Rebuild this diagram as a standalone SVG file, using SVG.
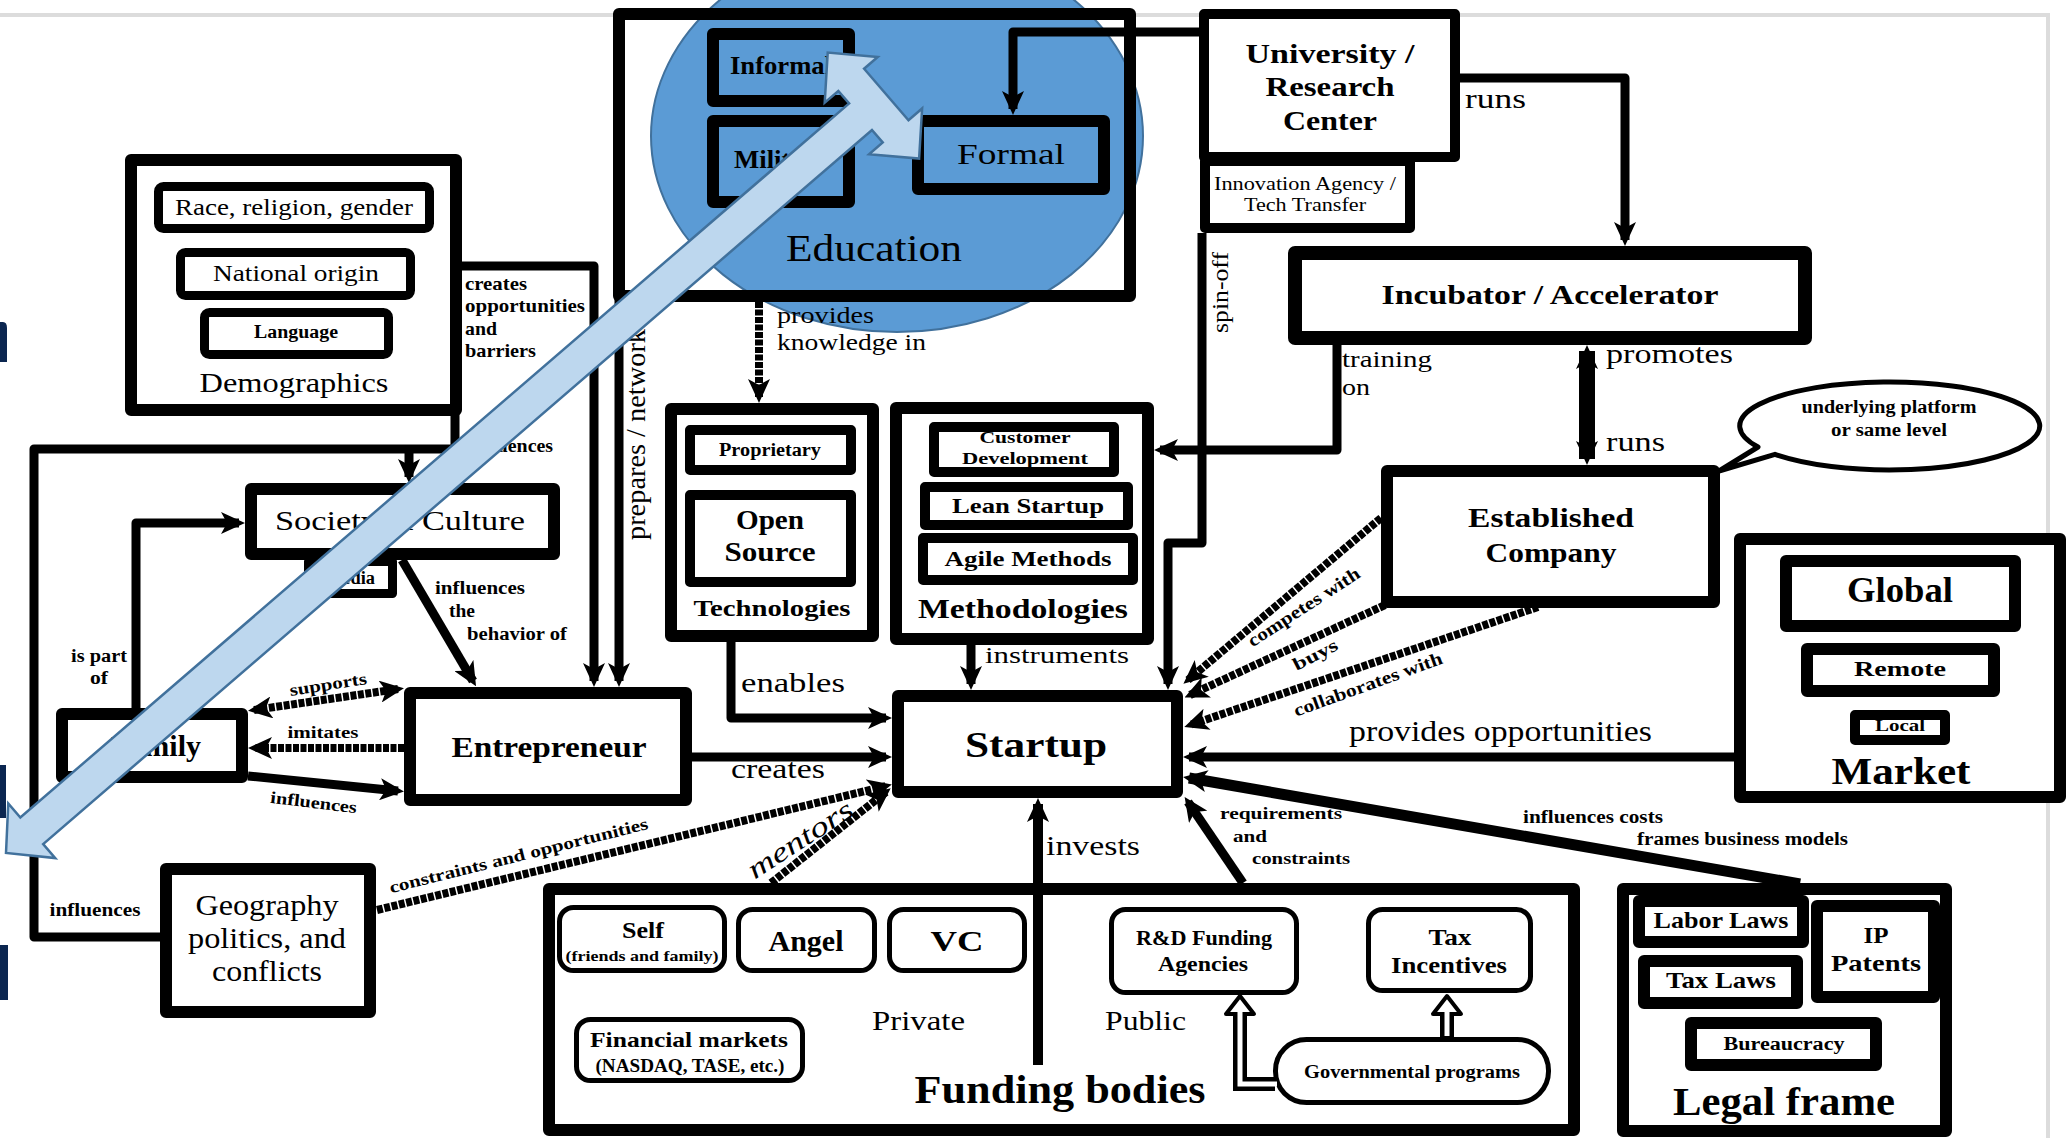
<svg xmlns="http://www.w3.org/2000/svg" width="2066" height="1138" viewBox="0 0 2066 1138">
<style>
.b{fill:#fff;stroke:#000;stroke-width:12;stroke-linejoin:round}
.n{fill:none;stroke:#000;stroke-width:12;stroke-linejoin:round}
.m{fill:#fff;stroke:#000;stroke-width:9;stroke-linejoin:round}
.s{fill:#fff;stroke:#000;stroke-width:10;stroke-linejoin:round}
.r{fill:#fff;stroke:#000;stroke-width:5}
text{font-family:'Liberation Serif','DejaVu Serif',serif;fill:#000}
.tb{font-weight:bold}
.mid{text-anchor:middle}
.end{text-anchor:end}
.c{fill:none;stroke:#000;stroke-width:9;stroke-linejoin:round}
.d{stroke-width:8;stroke-dasharray:6 1.5}
</style>
<defs>
<marker id="ah" viewBox="0 0 24 22" refX="18" refY="11" markerWidth="24" markerHeight="22" markerUnits="userSpaceOnUse" orient="auto-start-reverse">
<path d="M0,0 L24,11 L0,22 L6,11 Z" fill="#000"/>
</marker>
</defs>
<rect width="2066" height="1138" fill="#fff"/>
<g id="frame">
<path d="M0,15 H2048 V1138" fill="none" stroke="#dcdcdc" stroke-width="4"/>
<path d="M0,322 H3 Q7,322 7,328 V362 H0 Z" fill="#0b2650"/>
<rect x="0" y="765" width="6" height="53" fill="#0b2650"/>
<rect x="0" y="945" width="8" height="55" fill="#0b2650"/>
</g>

<g id="demographics">
<rect class="b" x="131" y="160" width="325" height="250"/>
<rect class="m" x="158.5" y="186.5" width="271" height="42" rx="5"/>
<text x="294" y="215" font-size="23" class="mid" textLength="238" lengthAdjust="spacingAndGlyphs">Race, religion, gender</text>
<rect class="m" x="180.5" y="252.5" width="230" height="43" rx="5"/>
<text x="296" y="281" font-size="23" class="mid" textLength="166" lengthAdjust="spacingAndGlyphs">National origin</text>
<rect class="m" x="204.5" y="312.5" width="184" height="42" rx="5"/>
<text x="296" y="338" font-size="18" class="mid tb" textLength="84" lengthAdjust="spacingAndGlyphs">Language</text>
<text x="294" y="392" font-size="28" class="mid" textLength="189" lengthAdjust="spacingAndGlyphs">Demographics</text>
</g>

<g id="media">
<rect class="m" x="308.5" y="561.5" width="84" height="32"/>
<text x="350" y="584" font-size="18" class="mid tb" textLength="50" lengthAdjust="spacingAndGlyphs">Media</text>
</g>
<g id="society">
<rect class="b" x="251" y="489" width="303" height="65"/>
<text x="400" y="530" font-size="28" class="mid" textLength="250" lengthAdjust="spacingAndGlyphs">Society &amp; Culture</text>
</g>
<g id="family">
<rect class="b" x="62" y="714" width="180" height="63"/>
<text x="156" y="756" font-size="30" class="mid tb" textLength="90" lengthAdjust="spacingAndGlyphs">Family</text>
</g>
<g id="entrepreneur">
<rect class="b" x="410" y="693" width="276" height="107"/>
<text x="549" y="757" font-size="29" class="mid tb" textLength="195" lengthAdjust="spacingAndGlyphs">Entrepreneur</text>
</g>
<g id="geography">
<rect class="b" x="166" y="869" width="204" height="143"/>
<text x="267" y="915" font-size="29" class="mid" textLength="143" lengthAdjust="spacingAndGlyphs">Geography</text>
<text x="267" y="948" font-size="29" class="mid" textLength="158" lengthAdjust="spacingAndGlyphs">politics, and</text>
<text x="267" y="981" font-size="29" class="mid" textLength="110" lengthAdjust="spacingAndGlyphs">conflicts</text>
</g>

<g id="education">
<rect x="619" y="14" width="511" height="282" fill="#fff"/>
<ellipse cx="897" cy="136" rx="246" ry="196" fill="#5B9BD5" stroke="#41719C" stroke-width="2"/>
<rect class="n" x="619" y="14" width="511" height="282"/>
<rect class="n" x="713" y="34" width="136" height="67"/>
<text x="730" y="74" font-size="26" class="tb" textLength="102" lengthAdjust="spacingAndGlyphs">Informal</text>
<rect class="n" x="713" y="121" width="136" height="81"/>
<text x="734" y="168" font-size="26" class="tb" textLength="95" lengthAdjust="spacingAndGlyphs">Military</text>
<rect class="n" x="918" y="121" width="186" height="68"/>
<text x="1011" y="164" font-size="30" class="mid" textLength="108" lengthAdjust="spacingAndGlyphs">Formal</text>
<text x="874" y="261" font-size="37" class="mid" textLength="176" lengthAdjust="spacingAndGlyphs">Education</text>
</g>

<g id="university">
<rect class="s" x="1204" y="14" width="251" height="143"/>
<text x="1330" y="63" font-size="28" class="mid tb" textLength="169" lengthAdjust="spacingAndGlyphs">University /</text>
<text x="1330" y="96" font-size="28" class="mid tb" textLength="129" lengthAdjust="spacingAndGlyphs">Research</text>
<text x="1330" y="130" font-size="28" class="mid tb" textLength="94" lengthAdjust="spacingAndGlyphs">Center</text>
</g>
<g id="innovation">
<rect class="s" x="1205" y="161" width="205" height="67"/>
<text x="1305" y="190" font-size="19" class="mid" textLength="182" lengthAdjust="spacingAndGlyphs">Innovation Agency /</text>
<text x="1305" y="211" font-size="19" class="mid" textLength="122" lengthAdjust="spacingAndGlyphs">Tech Transfer</text>
</g>
<g id="incubator">
<rect class="b" x="1295" y="253" width="510" height="85" style="stroke-width:14"/>
<text x="1550" y="304" font-size="28" class="mid tb" textLength="337" lengthAdjust="spacingAndGlyphs">Incubator / Accelerator</text>
</g>
<g id="established">
<rect class="b" x="1387" y="471" width="327" height="131"/>
<text x="1551" y="527" font-size="28" class="mid tb" textLength="166" lengthAdjust="spacingAndGlyphs">Established</text>
<text x="1551" y="562" font-size="28" class="mid tb" textLength="131" lengthAdjust="spacingAndGlyphs">Company</text>
</g>
<g id="bubble">
<path d="M1775,454.3 A150,44 0 1,0 1758,447 L1719,471 Z" fill="#fff" stroke="#000" stroke-width="5" stroke-linejoin="round"/>
<text x="1889" y="413" font-size="18" class="mid tb" textLength="175" lengthAdjust="spacingAndGlyphs">underlying platform</text>
<text x="1889" y="436" font-size="18" class="mid tb" textLength="116" lengthAdjust="spacingAndGlyphs">or same level</text>
</g>
<g id="market">
<rect class="b" x="1740" y="539" width="320" height="258"/>
<rect class="b" x="1786" y="561" width="229" height="65"/>
<text x="1900" y="602" font-size="36" class="mid tb" textLength="106" lengthAdjust="spacingAndGlyphs">Global</text>
<rect class="b" x="1807" y="649" width="187" height="42"/>
<text x="1900" y="676" font-size="22" class="mid tb" textLength="92" lengthAdjust="spacingAndGlyphs">Remote</text>
<text x="1900" y="731" font-size="16" class="mid tb" textLength="50" lengthAdjust="spacingAndGlyphs">Local</text>
<rect class="n" x="1855" y="715" width="90" height="25" style="stroke-width:10"/>
<text x="1901" y="784" font-size="38" class="mid tb" textLength="139" lengthAdjust="spacingAndGlyphs">Market</text>
</g>
<g id="startup">
<rect class="b" x="898" y="696" width="279" height="96"/>
<text x="1036" y="757" font-size="36" class="mid tb" textLength="142" lengthAdjust="spacingAndGlyphs">Startup</text>
</g>
<g id="technologies">
<rect class="b" x="671" y="409" width="202" height="227"/>
<rect class="s" x="690" y="430" width="161" height="40"/>
<text x="770" y="456" font-size="18" class="mid tb" textLength="102" lengthAdjust="spacingAndGlyphs">Proprietary</text>
<rect class="s" x="690" y="495" width="161" height="87"/>
<text x="770" y="529" font-size="27" class="mid tb" textLength="68" lengthAdjust="spacingAndGlyphs">Open</text>
<text x="770" y="561" font-size="27" class="mid tb" textLength="91" lengthAdjust="spacingAndGlyphs">Source</text>
<text x="772" y="616" font-size="23" class="mid tb" textLength="157" lengthAdjust="spacingAndGlyphs">Technologies</text>
</g>
<g id="methodologies">
<rect class="b" x="896" y="408" width="252" height="231"/>
<rect x="934" y="427" width="180" height="45" fill="#fff"/>
<text x="1025" y="443" font-size="17" class="mid tb" textLength="91" lengthAdjust="spacingAndGlyphs">Customer</text>
<text x="1025" y="464" font-size="17" class="mid tb" textLength="126" lengthAdjust="spacingAndGlyphs">Development</text>
<rect class="n" x="934" y="427" width="180" height="45" style="stroke-width:10"/>
<rect class="s" x="925" y="487" width="203" height="38"/>
<text x="1028" y="513" font-size="22" class="mid tb" textLength="152" lengthAdjust="spacingAndGlyphs">Lean Startup</text>
<rect class="s" x="923" y="538" width="210" height="42"/>
<text x="1028" y="566" font-size="22" class="mid tb" textLength="167" lengthAdjust="spacingAndGlyphs">Agile Methods</text>
<text x="1023" y="618" font-size="27" class="mid tb" textLength="210" lengthAdjust="spacingAndGlyphs">Methodologies</text>
</g>
<g id="funding">
<rect class="b" x="549" y="889" width="1025" height="241"/>
<rect class="r" x="559.5" y="907.5" width="165" height="63" rx="14"/>
<text x="643" y="938" font-size="24" class="mid tb" textLength="42" lengthAdjust="spacingAndGlyphs">Self</text>
<text x="642" y="961" font-size="15" class="mid tb" textLength="153" lengthAdjust="spacingAndGlyphs">(friends and family)</text>
<rect class="r" x="738.5" y="909.5" width="136" height="61" rx="14"/>
<text x="806" y="951" font-size="30" class="mid tb" textLength="75" lengthAdjust="spacingAndGlyphs">Angel</text>
<rect class="r" x="889.5" y="909.5" width="135" height="61" rx="14"/>
<text x="957" y="951" font-size="30" class="mid tb" textLength="53" lengthAdjust="spacingAndGlyphs">VC</text>
<rect class="r" x="576.5" y="1019.5" width="226" height="61" rx="14"/>
<text x="689" y="1047" font-size="22" class="mid tb" textLength="198" lengthAdjust="spacingAndGlyphs">Financial markets</text>
<text x="690" y="1072" font-size="18" class="mid tb" textLength="189" lengthAdjust="spacingAndGlyphs">(NASDAQ, TASE, etc.)</text>
<rect class="r" x="1111.5" y="909.5" width="185" height="83" rx="14"/>
<text x="1204" y="945" font-size="20" class="mid tb" textLength="136" lengthAdjust="spacingAndGlyphs">R&amp;D Funding</text>
<text x="1203" y="971" font-size="20" class="mid tb" textLength="90" lengthAdjust="spacingAndGlyphs">Agencies</text>
<rect class="r" x="1368.5" y="909.5" width="162" height="81" rx="14"/>
<text x="1450" y="945" font-size="24" class="mid tb" textLength="43" lengthAdjust="spacingAndGlyphs">Tax</text>
<text x="1449" y="973" font-size="24" class="mid tb" textLength="116" lengthAdjust="spacingAndGlyphs">Incentives</text>
<rect class="r" x="1275.5" y="1039.5" width="273" height="63" rx="31"/>
<text x="1412" y="1078" font-size="18" class="mid tb" textLength="216" lengthAdjust="spacingAndGlyphs">Governmental programs</text>
<text x="872" y="1030" font-size="28" textLength="93" lengthAdjust="spacingAndGlyphs">Private</text>
<text x="1105" y="1030" font-size="28" textLength="81" lengthAdjust="spacingAndGlyphs">Public</text>
<text x="1060" y="1103" font-size="40" class="mid tb" textLength="291" lengthAdjust="spacingAndGlyphs">Funding bodies</text>
</g>
<g id="legal">
<rect class="b" x="1623" y="889" width="323" height="242"/>
<rect class="b" x="1639" y="901" width="164" height="41"/>
<text x="1721" y="928" font-size="24" class="mid tb" textLength="135" lengthAdjust="spacingAndGlyphs">Labor Laws</text>
<rect class="b" x="1817" y="906" width="117" height="91"/>
<text x="1876" y="943" font-size="24" class="mid tb" textLength="25" lengthAdjust="spacingAndGlyphs">IP</text>
<text x="1876" y="971" font-size="24" class="mid tb" textLength="90" lengthAdjust="spacingAndGlyphs">Patents</text>
<rect class="b" x="1644" y="961" width="153" height="42"/>
<text x="1721" y="988" font-size="24" class="mid tb" textLength="110" lengthAdjust="spacingAndGlyphs">Tax Laws</text>
<rect class="b" x="1691" y="1023" width="185" height="42"/>
<text x="1784" y="1050" font-size="18" class="mid tb" textLength="121" lengthAdjust="spacingAndGlyphs">Bureaucracy</text>
<text x="1784" y="1115" font-size="40" class="mid tb" textLength="222" lengthAdjust="spacingAndGlyphs">Legal frame</text>
</g>

<g id="connectors">
<path class="c" d="M1200,32 H1013 V109" marker-end="url(#ah)"/>
<path class="c" d="M1459,78 H1625 V240" marker-end="url(#ah)"/>
<path class="c d" d="M759,302 V397" marker-end="url(#ah)"/>
<path class="c" d="M619,296 V681" marker-end="url(#ah)"/>
<path class="c" d="M457,266 H594 V681" marker-end="url(#ah)"/>
<path class="c" d="M455,414 V449 H34 V937 H162"/>
<path class="c" d="M409,449 V477" marker-end="url(#ah)"/>
<path class="c" d="M402,560 L473,681" marker-end="url(#ah)"/>
<path class="c" d="M136,708 V523 H239" marker-end="url(#ah)"/>
<path class="c d" d="M254,710 L398,689" marker-start="url(#ah)" marker-end="url(#ah)"/>
<path class="c d" d="M404,748 L254,748" marker-end="url(#ah)"/>
<path class="c" d="M248,776 L398,791" marker-end="url(#ah)"/>
<path class="c" d="M692,757 H886" marker-end="url(#ah)"/>
<path class="c" d="M731,642 V718 H886" marker-end="url(#ah)"/>
<path class="c" d="M971,645 V684" marker-end="url(#ah)"/>
<path class="c" d="M1202,233 V543 H1168 V684" marker-end="url(#ah)"/>
<path class="c" d="M1337,345 V450 H1160" marker-end="url(#ah)"/>
<path class="c" d="M1587,351 V459" style="stroke-width:16" marker-start="url(#ah)" marker-end="url(#ah)"/>
<path class="c d" d="M1381,518 L1188,680" marker-end="url(#ah)"/>
<path class="c d" d="M1385,605 L1190,695" marker-end="url(#ah)"/>
<path class="c d" d="M1538,607 L1190,725" marker-end="url(#ah)"/>
<path class="c" d="M1734,757 H1189" marker-end="url(#ah)"/>
<path class="c" d="M1800,884 L1189,778" style="stroke-width:11" marker-end="url(#ah)"/>
<path class="c" d="M1243,883 L1188,802" marker-end="url(#ah)"/>
<path class="c" d="M1038,1065 V804" style="stroke-width:10" marker-end="url(#ah)"/>
<path class="c d" d="M771,883 L886,792" marker-end="url(#ah)"/>
<path class="c d" d="M377,910 L886,786" marker-end="url(#ah)"/>
<path d="M1447,1039 V1012" fill="none" stroke="#000" stroke-width="14"/>
<polygon points="1447,996 1461,1014 1433,1014" fill="#fff" stroke="#000" stroke-width="4" stroke-linejoin="round"/>
<path d="M1447,1036 V1010" fill="none" stroke="#fff" stroke-width="5"/>
<path d="M1275,1084 H1240 V1012" fill="none" stroke="#000" stroke-width="14" stroke-linejoin="miter"/>
<polygon points="1240,996 1254,1014 1226,1014" fill="#fff" stroke="#000" stroke-width="4" stroke-linejoin="round"/>
<path d="M1277,1084 H1240 V1010" fill="none" stroke="#fff" stroke-width="5"/>
</g>

<g id="labels">
<text x="465" y="290" font-size="19" class="tb" textLength="62" lengthAdjust="spacingAndGlyphs">creates</text>
<text x="465" y="312" font-size="19" class="tb" textLength="120" lengthAdjust="spacingAndGlyphs">opportunities</text>
<text x="465" y="335" font-size="19" class="tb" textLength="32" lengthAdjust="spacingAndGlyphs">and</text>
<text x="465" y="357" font-size="19" class="tb" textLength="71" lengthAdjust="spacingAndGlyphs">barriers</text>
<text x="553" y="452" font-size="19" class="tb end" textLength="85" lengthAdjust="spacingAndGlyphs">influences</text>
<text x="435" y="594" font-size="18" class="tb" textLength="90" lengthAdjust="spacingAndGlyphs">influences</text>
<text x="449" y="617" font-size="18" class="tb" textLength="26" lengthAdjust="spacingAndGlyphs">the</text>
<text x="467" y="640" font-size="18" class="tb" textLength="100" lengthAdjust="spacingAndGlyphs">behavior of</text>
<text x="99" y="662" font-size="18" class="tb mid" textLength="56" lengthAdjust="spacingAndGlyphs">is part</text>
<text x="99" y="684" font-size="18" class="tb mid" textLength="18" lengthAdjust="spacingAndGlyphs">of</text>
<text transform="translate(329,690) rotate(-9)" font-size="17" class="tb mid" textLength="78" lengthAdjust="spacingAndGlyphs">supports</text>
<text x="323" y="738" font-size="17" class="tb mid" textLength="71" lengthAdjust="spacingAndGlyphs">imitates</text>
<text transform="translate(313,808) rotate(7)" font-size="17" class="tb mid" textLength="87" lengthAdjust="spacingAndGlyphs">influences</text>
<text x="95" y="916" font-size="18" class="tb mid" textLength="91" lengthAdjust="spacingAndGlyphs">influences</text>
<text transform="translate(520,861) rotate(-14)" font-size="17" class="tb mid" textLength="266" lengthAdjust="spacingAndGlyphs">constraints and opportunities</text>
<text transform="translate(805,847) rotate(-33)" font-size="28" font-style="italic" class="mid" textLength="120" lengthAdjust="spacingAndGlyphs">mentors</text>
<text x="777" y="323" font-size="24" textLength="97" lengthAdjust="spacingAndGlyphs">provides</text>
<text x="777" y="350" font-size="24" textLength="149" lengthAdjust="spacingAndGlyphs">knowledge in</text>
<text transform="translate(645,540) rotate(-90)" font-size="27" textLength="211" lengthAdjust="spacingAndGlyphs">prepares / network</text>
<text x="741" y="692" font-size="28" textLength="104" lengthAdjust="spacingAndGlyphs">enables</text>
<text x="985" y="663" font-size="24" textLength="144" lengthAdjust="spacingAndGlyphs">instruments</text>
<text x="731" y="778" font-size="28" textLength="94" lengthAdjust="spacingAndGlyphs">creates</text>
<text x="1046" y="855" font-size="28" textLength="94" lengthAdjust="spacingAndGlyphs">invests</text>
<text x="1220" y="819" font-size="17" class="tb" textLength="122" lengthAdjust="spacingAndGlyphs">requirements</text>
<text x="1233" y="842" font-size="17" class="tb" textLength="34" lengthAdjust="spacingAndGlyphs">and</text>
<text x="1252" y="864" font-size="17" class="tb" textLength="98" lengthAdjust="spacingAndGlyphs">constraints</text>
<text x="1523" y="823" font-size="18" class="tb" textLength="140" lengthAdjust="spacingAndGlyphs">influences costs</text>
<text x="1637" y="845" font-size="18" class="tb" textLength="211" lengthAdjust="spacingAndGlyphs">frames business models</text>
<text x="1349" y="741" font-size="29" textLength="303" lengthAdjust="spacingAndGlyphs">provides opportunities</text>
<text transform="translate(1307,612) rotate(-33)" font-size="18" class="tb mid" textLength="130" lengthAdjust="spacingAndGlyphs">competes with</text>
<text transform="translate(1318,660) rotate(-27)" font-size="18" class="tb mid" textLength="48" lengthAdjust="spacingAndGlyphs">buys</text>
<text transform="translate(1370,690) rotate(-20)" font-size="18" class="tb mid" textLength="157" lengthAdjust="spacingAndGlyphs">collaborates with</text>
<text transform="translate(1228,333) rotate(-90)" font-size="24" textLength="81" lengthAdjust="spacingAndGlyphs">spin-off</text>
<text x="1342" y="367" font-size="24" textLength="90" lengthAdjust="spacingAndGlyphs">training</text>
<text x="1342" y="395" font-size="24" textLength="28" lengthAdjust="spacingAndGlyphs">on</text>
<text x="1465" y="108" font-size="28" textLength="61" lengthAdjust="spacingAndGlyphs">runs</text>
<text x="1606" y="363" font-size="28" textLength="127" lengthAdjust="spacingAndGlyphs">promotes</text>
<text x="1606" y="451" font-size="28" textLength="59" lengthAdjust="spacingAndGlyphs">runs</text>
</g>

<g id="blue-arrow" transform="translate(6,853) rotate(-40.75)">
<path d="M0,0 L34,-36 L34,-17.5 L1128,-17.5 L1128,-34 L1110,-34 L1145,-70 L1180,-34 L1162,-34 L1162,34 L1180,34 L1145,70 L1110,34 L1128,34 L1128,17.5 L34,17.5 L34,36 Z" fill="#BDD7EE" stroke="#41719C" stroke-width="2.5" stroke-linejoin="miter"/>
</g>
</svg>
